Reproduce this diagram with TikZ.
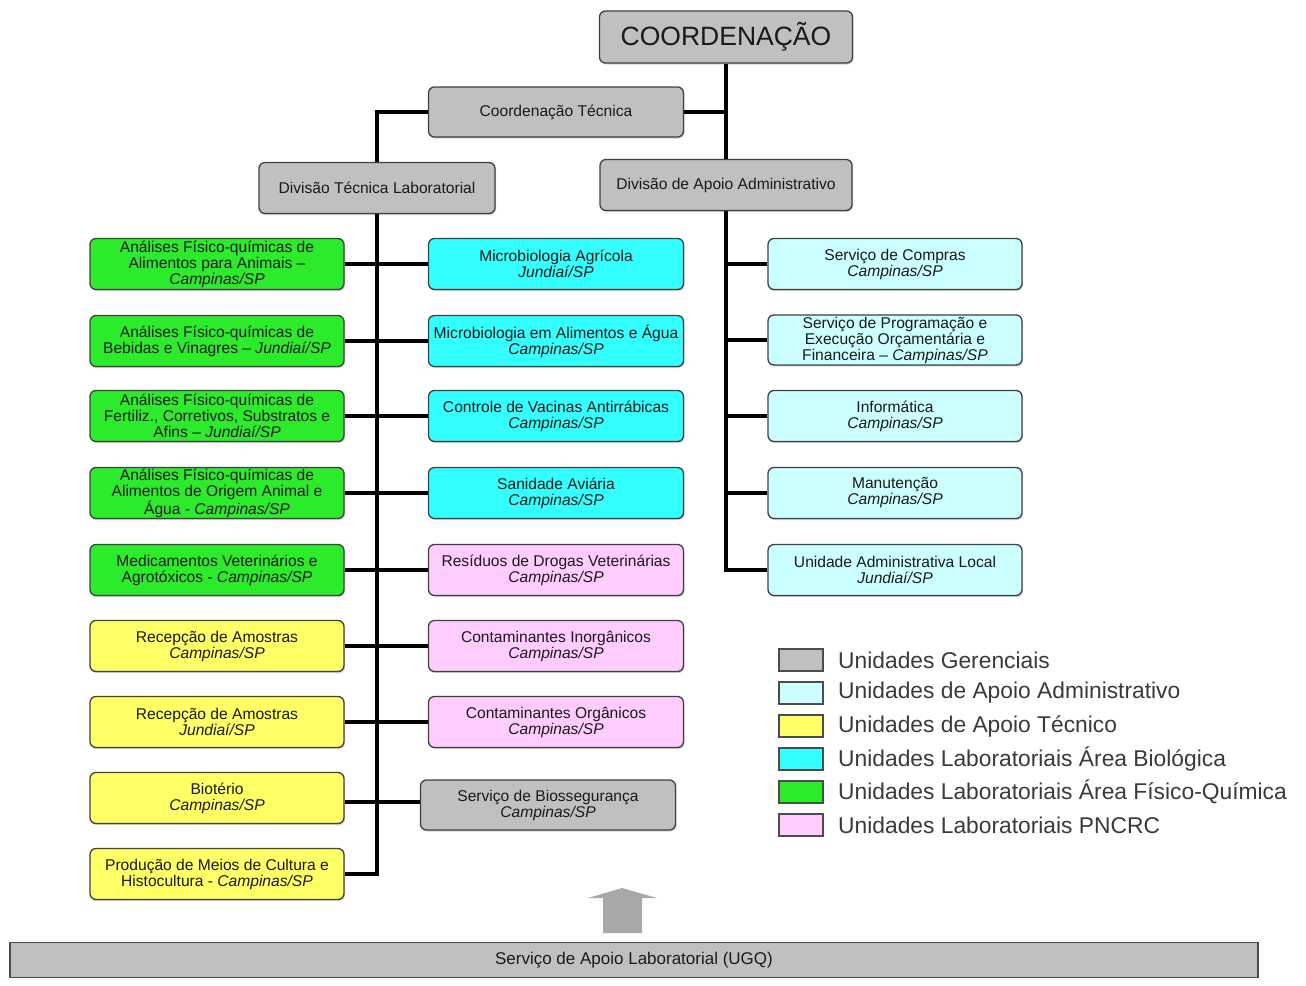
\documentclass[tikz,border=0pt]{standalone}
\usepackage{fontspec}
\setmainfont{Liberation Sans}
\usetikzlibrary{shadows}
\definecolor{cger}{HTML}{C0C0C0}
\definecolor{cadm}{HTML}{CCFFFF}
\definecolor{ctec}{HTML}{FFFF66}
\definecolor{cbio}{HTML}{33FFFF}
\definecolor{cfq}{HTML}{2BEB2B}
\definecolor{cpn}{HTML}{FFCCFF}
\definecolor{ctxt}{HTML}{1A1A1A}
\definecolor{clegtxt}{HTML}{3A3A3A}
\definecolor{carrow}{HTML}{A8A8A8}
\begin{document}
\begin{tikzpicture}[x=1pt,y=-1pt,
  unitbox/.style={draw=black!75, line width=1.3pt, rounded corners=6pt, align=center,
    inner sep=0pt, text=ctxt, font=\fontsize{15.6}{16}\selectfont,
    drop shadow={shadow xshift=1pt, shadow yshift=-1.5pt, fill=black!35}},
  colbox/.style={unitbox, minimum width=254pt, minimum height=51pt},
  ger/.style={fill=cger}, adm/.style={fill=cadm}, tec/.style={fill=ctec},
  bio/.style={fill=cbio}, fq/.style={fill=cfq}, pn/.style={fill=cpn},
  conn/.style={line width=4pt, black},
  legsq/.style={draw=black!70, line width=1.2pt, minimum width=44pt, minimum height=22pt, inner sep=0pt},
  legtxt/.style={anchor=west, text=clegtxt, font=\fontsize{22.8}{24}\selectfont, inner sep=0pt}
]
\useasboundingbox (0,0) rectangle (1306,985);
\fill[white] (0,0) rectangle (1306,985);

% management
\node[unitbox, ger, minimum width=253pt, minimum height=52pt, font=\fontsize{26.5}{28}\selectfont] (coord) at (726,37) {COORDENAÇÃO};
\node[unitbox, ger, minimum width=255pt, minimum height=50pt] (ct) at (556,112) {Coordenação Técnica};
\node[unitbox, ger, minimum width=236pt, minimum height=51pt] (dtl) at (377,188) {Divisão Técnica Laboratorial};
\node[unitbox, ger, minimum width=252pt, minimum height=51pt] (dapa) at (726,185) {Divisão de Apoio Administrativo};

% left column
\node[colbox, fq] (L1) at (217,264) {Análises Físico-químicas de\\Alimentos para Animais –\\\textit{Campinas/SP}};
\node[colbox, fq] (L2) at (217,341) {Análises Físico-químicas de\\Bebidas e Vinagres – \textit{Jundiaí/SP}};
\node[colbox, fq] (L3) at (217,416) {Análises Físico-químicas de\\Fertiliz., Corretivos, Substratos e\\Afins – \textit{Jundiaí/SP}};
\node[colbox, fq] (L4) at (217,493) {Análises Físico-químicas de\\Alimentos de Origem Animal e\\Água - \textit{Campinas/SP}};
\node[colbox, fq] (L5) at (217,570) {Medicamentos Veterinários e\\Agrotóxicos - \textit{Campinas/SP}};
\node[colbox, tec] (L6) at (217,646) {Recepção de Amostras\\\textit{Campinas/SP}};
\node[colbox, tec] (L7) at (217,722) {Recepção de Amostras\\\textit{Jundiaí/SP}};
\node[colbox, tec] (L8) at (217,798) {Biotério\\\textit{Campinas/SP}};
\node[colbox, tec] (L9) at (217,874) {Produção de Meios de Cultura e\\Histocultura - \textit{Campinas/SP}};

% middle column
\node[colbox, bio, minimum width=255pt] (M1) at (556,264) {Microbiologia Agrícola\\\textit{Jundiaí/SP}};
\node[colbox, bio, minimum width=255pt] (M2) at (556,341) {Microbiologia em Alimentos e Água\\\textit{Campinas/SP}};
\node[colbox, bio, minimum width=255pt] (M3) at (556,416) {Controle de Vacinas Antirrábicas\\\textit{Campinas/SP}};
\node[colbox, bio, minimum width=255pt] (M4) at (556,493) {Sanidade Aviária\\\textit{Campinas/SP}};
\node[colbox, pn, minimum width=255pt] (M5) at (556,570) {Resíduos de Drogas Veterinárias\\\textit{Campinas/SP}};
\node[colbox, pn, minimum width=255pt] (M6) at (556,646) {Contaminantes Inorgânicos\\\textit{Campinas/SP}};
\node[colbox, pn, minimum width=255pt] (M7) at (556,722) {Contaminantes Orgânicos\\\textit{Campinas/SP}};
\node[colbox, ger, minimum width=255pt, minimum height=50pt] (M8) at (548,805) {Serviço de Biossegurança\\\textit{Campinas/SP}};

% right column
\node[colbox, adm] (R1) at (895,264) {Serviço de Compras\\\textit{Campinas/SP}};
\node[colbox, adm, minimum height=50pt] (R2) at (895,340) {Serviço de Programação e\\Execução Orçamentária e\\Financeira – \textit{Campinas/SP}};
\node[colbox, adm] (R3) at (895,416) {Informática\\\textit{Campinas/SP}};
\node[colbox, adm] (R4) at (895,493) {Manutenção\\\textit{Campinas/SP}};
\node[colbox, adm] (R5) at (895,570) {Unidade Administrativa Local\\\textit{Jundiaí/SP}};

% connectors
\draw[conn] (coord.south) -- (dapa.north);
\draw[conn] (ct.east) -- (ct.east -| coord.south);
\draw[conn] (ct.west) -| (dtl.north);
\draw[conn] (dtl.south) |- (L9.east);
\foreach \i in {1,...,7} {\draw[conn] (L\i.east) -- (M\i.west);}
\draw[conn] (L8.east) ++(0,4) -- (M8.west |- 0,802);
\draw[conn] (dapa.south) |- (R5.west);
\foreach \i in {1,...,4} {\draw[conn] (R\i.west) -- (R\i.west -| dapa.south);}

% legend
\node[legsq, fill=cger] (k1) at (801,660) {};
\node[legsq, fill=cadm] (k2) at (801,693) {};
\node[legsq, fill=ctec] (k3) at (801,726) {};
\node[legsq, fill=cbio] (k4) at (801,759) {};
\node[legsq, fill=cfq] (k5) at (801,792) {};
\node[legsq, fill=cpn] (k6) at (801,825) {};
\node[legtxt] (t1) at (838,660) {Unidades Gerenciais};
\node[legtxt] (t2) at (838,693) {Unidades de Apoio Administrativo};
\node[legtxt] (t3) at (838,726) {Unidades de Apoio Técnico};
\node[legtxt] (t4) at (838,759) {Unidades Laboratoriais Área Biológica};
\node[legtxt] (t5) at (838,792) {Unidades Laboratoriais Área Físico-Química};
\node[legtxt] (t6) at (838,825) {Unidades Laboratoriais PNCRC};

% arrow
\fill[carrow] (603,933) -- (642,933) -- (642,898) -- (657,898) -- (622,888) -- (588,898) -- (603,898) -- cycle;

% bottom bar
\node[draw=black!70, line width=1.5pt, fill=cger, minimum width=1248pt, minimum height=35pt, inner sep=0pt,
  font=\fontsize{17}{18}\selectfont, text=ctxt] (sal) at (634,960) {Serviço de Apoio Laboratorial (UGQ)};
\end{tikzpicture}
\end{document}
